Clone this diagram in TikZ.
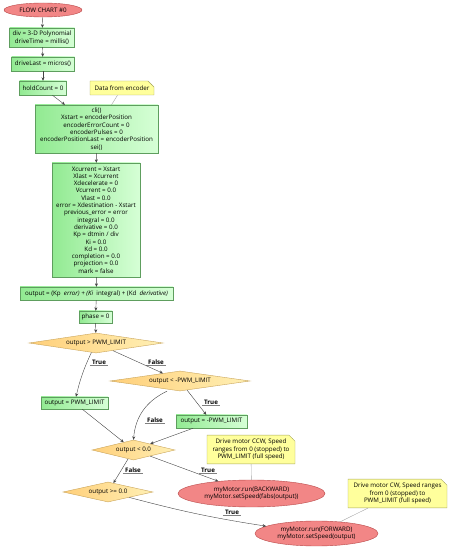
\documentclass[tikz,border=0pt]{standalone}
\usepackage{fontspec}
\setmainfont{Open Sans}
\usetikzlibrary{shapes.geometric,shapes.misc,arrows.meta}
\definecolor{boxline}{HTML}{5E9E5E}
\definecolor{boxleft}{HTML}{92EA92}
\definecolor{boxright}{HTML}{D6FFD6}
\definecolor{decline}{HTML}{C9A45A}
\definecolor{decleft}{HTML}{FFCF7A}
\definecolor{decright}{HTML}{FFF0B4}
\definecolor{endline}{HTML}{B84848}
\definecolor{endfill}{HTML}{F28686}
\definecolor{noteline}{HTML}{A8A860}
\definecolor{notefill}{HTML}{FFFF9C}
\definecolor{arrowline}{HTML}{454545}

\begin{document}
\begin{tikzpicture}[x=1pt,y=1pt,
% common options for blocks:
block/.style = {draw=boxline, left color=boxleft, right color=boxright,
            align=center, inner sep=1pt, font=\fontsize{6.2}{7.3}\selectfont},
% common options for the decisions:
cond/.style = {diamond, draw=decline, left color=decleft, right color=decright,
            aspect=6, inner sep=0, align=center, font=\fontsize{6.2}{7.3}\selectfont},
% common options for start and end:
term/.style = {ellipse, draw=endline, fill=endfill, align=center,
            inner sep=0, font=\fontsize{6.2}{7.3}\selectfont},
% common options for the notes:
memo/.style = {chamfered rectangle, chamfered rectangle corners=north east,
            chamfered rectangle xsep=3pt, chamfered rectangle ysep=3pt,
            draw=noteline, fill=notefill, align=center, inner sep=1pt,
            font=\fontsize{6.2}{7.3}\selectfont,
            path picture={\draw[noteline] ([xshift=-3pt]path picture bounding box.north east)
              -- ++(0,-3pt) -- ++(3pt,0);}},
% True / False labels:
tag/.style = {inner sep=1pt, font=\bfseries\fontsize{6.2}{7}\selectfont,
            append after command={([xshift=-1pt]\tikzlastnode.south west)
              edge[draw=gray] ([xshift=1pt]\tikzlastnode.south east)}},
flow/.style = {draw=arrowline, line width=0.4pt, -{Stealth[length=3.5pt,width=3pt]}},
link/.style = {draw=gray!70, line width=0.4pt}]
\useasboundingbox (0,0) rectangle (450,550);
\node[term, minimum width=78, minimum height=14] (T0) at (43,540) {FLOW CHART \#0};
\node[block, minimum width=65, minimum height=19] (B1) at (42,512.5) {div = 3-D Polynomial\\driveTime = millis()};
\node[block, minimum width=63, minimum height=14] (B2) at (43,486) {driveLast = micros()};
\node[block, minimum width=47, minimum height=14] (B3) at (43,462) {holdCount = 0};
\node[memo, minimum width=64, minimum height=14] (N1) at (122,462) {Data from encoder};
\node[block, minimum width=123, minimum height=48] (B4) at (96.5,421) {cli()\\Xstart = encoderPosition\\encoderErrorCount = 0\\encoderPulses = 0\\encoderPositionLast = encoderPosition\\sei()};
\node[block, minimum width=88, minimum height=114] (B5) at (96,330) {Xcurrent = Xstart\\Xlast = Xcurrent\\Xdecelerate = 0\\Vcurrent = 0.0\\Vlast = 0.0\\error = Xdestination - Xstart\\previous\_error = error\\integral = 0.0\\derivative = 0.0\\Kp = dtmin / div\\Ki = 0.0\\Kd = 0.0\\completion = 0.0\\projection = 0.0\\mark = false};
\node[block, minimum width=153, minimum height=13] (B6) at (96.5,256.5) {output = (Kp\ \ \textit{error) + (Ki\ \ }integral) + (Kd\ \ \textit{derivative)}};
\node[block, minimum width=33, minimum height=12] (B7) at (95.5,233) {phase = 0};
\node[cond, minimum width=134, minimum height=20] (D1) at (96,207) {output > PWM\_LIMIT};
\node[cond, minimum width=140, minimum height=20] (D2) at (180,169) {output < -PWM\_LIMIT};
\node[block, minimum width=67, minimum height=12] (B8) at (74.5,147) {output = PWM\_LIMIT};
\node[block, minimum width=71, minimum height=13] (B9) at (211.5,128.5) {output = -PWM\_LIMIT};
\node[cond, minimum width=83, minimum height=20] (D3) at (133.5,100) {output < 0.0};
\node[memo, minimum width=88, minimum height=25] (N2) at (251,100.5) {Drive motor CCW, Speed\\ranges from 0 (stopped) to\\PWM\_LIMIT (full speed)};
\node[term, minimum width=147, minimum height=27] (E1) at (251.5,56.5) {myMotor.run(BACKWARD)\\myMotor.setSpeed(fabs(output))};
\node[cond, minimum width=90, minimum height=20] (D4) at (108,58) {output >= 0.0};
\node[memo, minimum width=99, minimum height=27] (N3) at (397.5,56.5) {Drive motor CW, Speed ranges\\from 0 (stopped) to\\PWM\_LIMIT (full speed)};
\node[term, minimum width=123, minimum height=25] (E2) at (316.5,16.5) {myMotor.run(FORWARD)\\myMotor.setSpeed(output)};
% branch labels
\node[tag] (L1) at (99,188) {True};
\node[tag] (L2) at (156,188) {False};
\node[tag] (L3) at (211,148) {True};
\node[tag] (L4) at (155,130) {False};
\node[tag] (L5) at (133,80) {False};
\node[tag] (L6) at (208,80) {True};
\node[tag] (L7) at (232,38) {True};
% connectors
\draw[flow] (T0) -- (B1);
\draw[flow] (B1) -- (B2);
\draw[flow] (B2) -- (B3);
\draw[flow] (B3) -- (B4);
\draw[link] (N1) -- (B4);
\draw[flow] (B4) -- (B5);
\draw[flow] (B5) -- (B6);
\draw[flow] (B6) -- (B7);
\draw[flow] (B7) -- (D1);
\draw[flow] (D1) to[bend right=6] (B8);
\draw[flow] (D1) -- (D2);
\draw[flow] (D2) -- (B9);
\draw[flow] ([xshift=-13pt]D2.south) to[bend right=30] (D3.north);
\draw[flow] (B8) -- (D3);
\draw[flow] (B9) -- (D3);
\draw[flow] (D3) -- (E1);
\draw[flow] (D3) -- (D4);
\draw[flow] (D4) to[bend right=3] (E2);
\draw[link] (N2) -- (E1);
\draw[link] (N3) -- (E2);
\end{tikzpicture}
\end{document}
